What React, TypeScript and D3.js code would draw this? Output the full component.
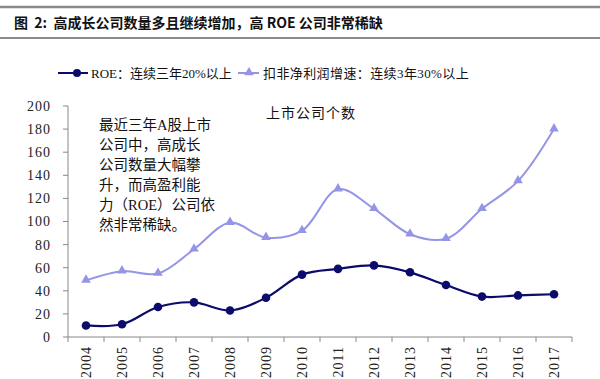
import React from "react";
import * as d3 from "d3";

const years = ["2004","2005","2006","2007","2008","2009","2010","2011","2012","2013","2014","2015","2016","2017"];
const roeValues = [10, 11, 26, 30, 23, 34, 54, 59, 62, 56, 45, 35, 36, 37];
const growthValues = [49, 57, 55, 76, 99, 86, 92, 128, 111, 89, 85, 111, 135, 180];
const yTicks = [0, 20, 40, 60, 80, 100, 120, 140, 160, 180, 200];
const noteLines = ["最近三年A股上市", "公司中，高成长", "公司数量大幅攀", "升，而高盈利能", "力（ROE）公司依", "然非常稀缺。"];

const W = 600, H = 379;
const ROE_COLOR = "#0b0b6b";
const GROWTH_COLOR = "#9595e6";
const FONT = "'Liberation Serif', 'DejaVu Serif', 'Noto Sans CJK SC', serif";

export default function App() {
  const x = d3.scaleBand().domain(years).range([68, 572]);
  const y = d3.scaleLinear().domain([0, 200]).range([337, 106]);
  const cx = (d: string) => (x(d) as number) + x.bandwidth() / 2;
  const line = d3.line<number>()
    .x((_, i) => cx(years[i]))
    .y((v) => y(v))
    .curve(d3.curveCatmullRom.alpha(0.5));
  const tri = d3.symbol().type(d3.symbolTriangle).size(40);

  return (
    <svg width={W} height={H} style={{ position: "absolute", left: 0, top: 0 }} fontFamily={FONT}>
      <rect width={W} height={H} fill="#fff" />
      {/* title rules */}
      <line x1={0} x2={W} y1={7} y2={7} stroke="#8a8a8a" strokeWidth={2.5} />
      <line x1={0} x2={W} y1={38} y2={38} stroke="#8a8a8a" strokeWidth={2} />
      <text x={14} y={28} fontSize={14} fontWeight="bold" style={{ whiteSpace: "pre" }} fontFamily="'Noto Sans CJK SC', 'Liberation Sans', sans-serif" fill="#111">
        {"图  2:  高成长公司数量多且继续增加，高 ROE 公司非常稀缺"}
      </text>

      {/* legend */}
      <line x1={58} x2={88} y1={73} y2={73} stroke={ROE_COLOR} strokeWidth={2} />
      <circle cx={77} cy={73} r={4} fill={ROE_COLOR} />
      <text x={91} y={78} fontSize={13} fill="#111">ROE：连续三年20%以上</text>
      <line x1={238} x2={259} y1={73} y2={73} stroke={GROWTH_COLOR} strokeWidth={2} />
      <path d={tri() as string} transform={`translate(249,72.5)`} fill={GROWTH_COLOR} />
      <text x={263} y={78} fontSize={13} letterSpacing={0.4} fill="#111">扣非净利润增速：连续3年30%以上</text>

      {/* y axis */}
      <line x1={68} x2={68} y1={106} y2={337} stroke="#888" />
      {yTicks.map((t) => (
        <g key={t}>
          <line x1={63} x2={68} y1={y(t)} y2={y(t)} stroke="#888" />
          <text x={51} y={y(t)} dy="0.35em" textAnchor="end" fontSize={14} letterSpacing={1} fill="#222">{t}</text>
        </g>
      ))}

      {/* x axis */}
      <line x1={68} x2={572} y1={337} y2={337} stroke="#888" />
      {years.map((yr) => (
        <line key={"t" + yr} x1={x(yr) as number} x2={x(yr) as number} y1={337} y2={342} stroke="#888" />
      ))}
      <line x1={572} x2={572} y1={337} y2={342} stroke="#888" />
      {years.map((yr) => (
        <text key={yr} transform={`translate(${cx(yr) + 5},${346}) rotate(-90)`} textAnchor="end" fontSize={14} letterSpacing={1} fill="#222">{yr}</text>
      ))}

      {/* annotations */}
      <text x={311} y={118} textAnchor="middle" fontSize={14} letterSpacing={1} fill="#111">上市公司个数</text>
      {noteLines.map((l, i) => (
        <text key={i} x={99} y={130 + i * 20} fontSize={14.5} fill="#111">{l}</text>
      ))}

      {/* series */}
      <path d={line(growthValues) as string} fill="none" stroke={GROWTH_COLOR} strokeWidth={2} />
      {growthValues.map((v, i) => (
        <path key={"g" + i} d={tri() as string} transform={`translate(${cx(years[i])},${y(v) - 0.5})`} fill={GROWTH_COLOR} />
      ))}
      <path d={line(roeValues) as string} fill="none" stroke={ROE_COLOR} strokeWidth={2.2} />
      {roeValues.map((v, i) => (
        <circle key={"r" + i} cx={cx(years[i])} cy={y(v)} r={4.3} fill={ROE_COLOR} />
      ))}
    </svg>
  );
}
